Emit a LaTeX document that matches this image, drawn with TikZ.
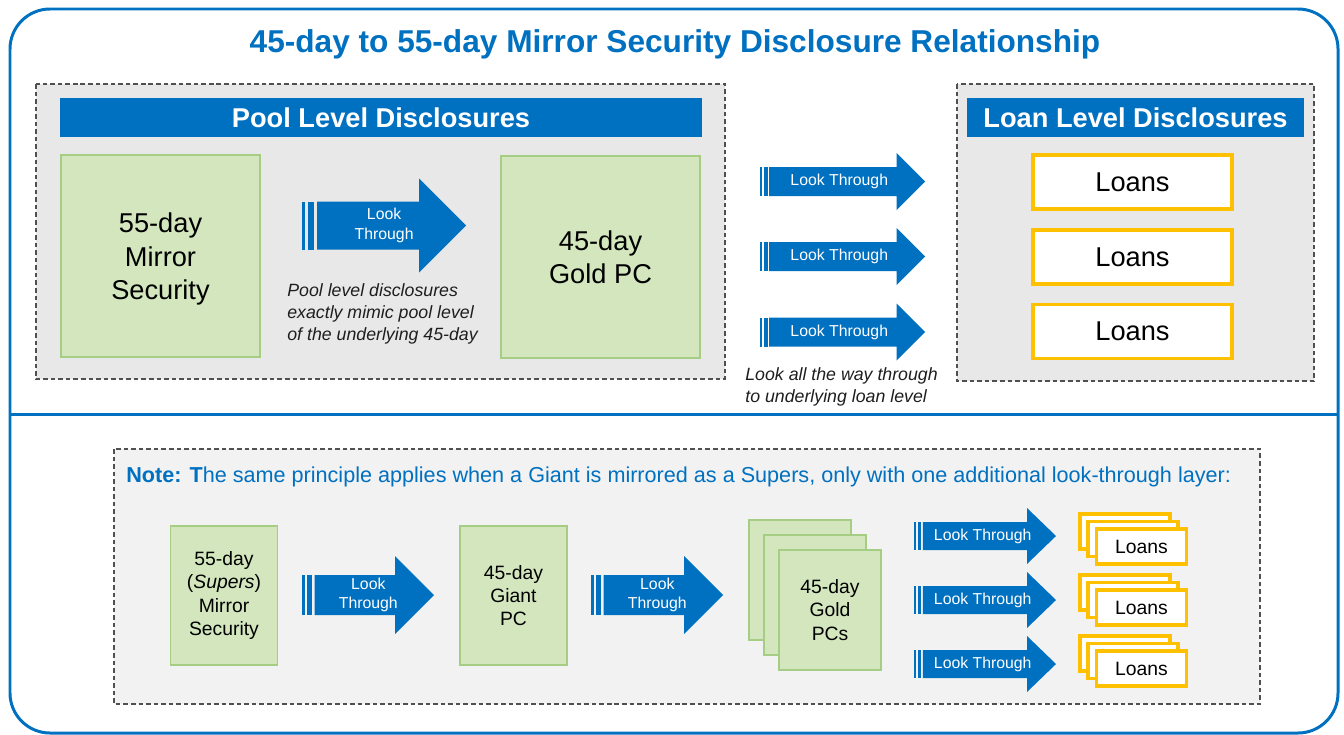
\documentclass[tikz,border=0pt]{standalone}
\usepackage{fontspec}
\setmainfont{Liberation Sans}
\definecolor{mblue}{RGB}{0,112,192}
\definecolor{lgray}{RGB}{232,232,232}
\definecolor{vlgray}{RGB}{242,242,242}
\definecolor{lgreen}{RGB}{211,230,189}
\definecolor{dgreen}{RGB}{165,206,132}
\definecolor{gold}{RGB}{255,192,0}
\definecolor{dashgray}{RGB}{80,80,80}
\definecolor{txtgray}{RGB}{30,30,30}

% block arrow: name, tail x, centre y, length, body half, head half, head length, text
\newcommand{\lookarrow}[8]{%
  \fill[mblue] (#2,{#3-#5}) rectangle ({#2+0.14*#5},{#3+#5});
  \fill[mblue] ({#2+0.27*#5},{#3-#5}) rectangle ({#2+0.52*#5},{#3+#5});
  \fill[mblue] ({#2+0.63*#5},{#3-#5}) -- ({#2+#4-#7},{#3-#5}) -- ({#2+#4-#7},{#3-#6})
    -- ({#2+#4},#3) -- ({#2+#4-#7},{#3+#6}) -- ({#2+#4-#7},{#3+#5})
    -- ({#2+0.63*#5},{#3+#5}) -- cycle;
  \node[arrowtext] (#1) at ({#2+0.63*#5+0.45*(#4-0.63*#5)},#3) {#8};
}

\begin{document}
\begin{tikzpicture}[x=0.02cm, y=-0.02cm,
  frame/.style={draw=mblue, line width=1.7pt},
  dashbox/.style={draw=dashgray, line width=0.6pt, dash pattern=on 2.6pt off 1.7pt},
  header/.style={fill=mblue, text=white, inner sep=0, minimum height=0.78cm,
    font=\bfseries\fontsize{15.5}{18}\selectfont},
  greenbox/.style={fill=lgreen, draw=dgreen, line width=0.7pt, inner sep=0, align=center},
  bigtext/.style={font=\fontsize{15.5}{19}\selectfont},
  smalltext/.style={font=\fontsize{11}{13.2}\selectfont},
  loanbox/.style={fill=white, draw=gold, line width=1.8pt, inner sep=0},
  arrowtext/.style={text=white, align=center, inner sep=0, font=\fontsize{9}{11.2}\selectfont},
  remark/.style={text=txtgray, align=left, inner sep=0, font=\itshape\fontsize{10.1}{12.5}\selectfont}]
\useasboundingbox (0,0) rectangle (1344,734);

% frame and title
\draw[frame, rounded corners=0.8cm] (10,9) rectangle (1338,733);
\draw[frame] (10,414) -- (1338,414);
\node[text=mblue, font=\bfseries\fontsize{18}{21}\selectfont] (T) at (675,44)
  {45-day to 55-day Mirror Security Disclosure Relationship};

% pool level
\draw[dashbox, fill=lgray] (36,84) rectangle (725,379);
\node[header, minimum width=12.84cm] (P) at (381,117.5) {Pool Level Disclosures};
\node[greenbox, minimum width=3.98cm, minimum height=4.04cm] (M) at (160.5,256) {};
\node[bigtext, align=center, inner sep=0] (Mt) at (160.5,259) {55-day\\Mirror\\Security};
\node[greenbox, bigtext, minimum width=3.98cm, minimum height=4.04cm] (G) at (600.5,257)
  {45-day\\Gold PC};
\lookarrow{A}{302}{225.5}{164}{24}{47}{47}{Look\\Through}
\node[remark, anchor=west] (R1) at (287,314)
  {Pool level disclosures\\exactly mimic pool level\\of the underlying 45-day};

% look through to loans
\lookarrow{A1}{760}{181.5}{165}{14.5}{28.5}{28.5}{Look Through}
\lookarrow{A2}{760}{256.5}{165}{14.5}{28.5}{28.5}{Look Through}
\lookarrow{A3}{760}{332}{165}{14.5}{28.5}{28.5}{Look Through}
\node[remark, anchor=west] (R2) at (745,387)
  {Look all the way through\\to underlying loan level};

% loan level
\draw[dashbox, fill=lgray] (957,84) rectangle (1314,381);
\node[header, minimum width=6.74cm] (L) at (1135.5,117.5) {Loan Level Disclosures};
\node[loanbox, bigtext, minimum width=3.98cm, minimum height=1.08cm] (L1) at (1132.5,182) {Loans};
\node[loanbox, bigtext, minimum width=3.98cm, minimum height=1.08cm] (L2) at (1132.5,257) {Loans};
\node[loanbox, bigtext, minimum width=3.98cm, minimum height=1.08cm] (L3) at (1132.5,331.5) {Loans};

% note on Giants and Supers
\draw[dashbox, fill=vlgray] (114,449) rectangle (1260,704);
\node[text=mblue, anchor=west, inner sep=0, font=\fontsize{12.3}{14}\selectfont] (N) at (126,477)
  {\textbf{Note: T}he same principle applies when a Giant is mirrored as a Supers, only with one additional look-through layer:};
\node[greenbox, smalltext, minimum width=2.14cm, minimum height=2.78cm] (S) at (224,595.5)
  {55-day\\(\textit{Supers})\\Mirror\\Security};
\lookarrow{B1}{302}{595}{132}{20}{39}{39}{Look\\Through}
\node[greenbox, smalltext, minimum width=2.14cm, minimum height=2.78cm] (GP) at (513.5,595.5)
  {45-day\\Giant\\PC};
\lookarrow{B2}{591}{595}{132}{20}{39}{39}{Look\\Through}
\node[greenbox, minimum width=2.04cm, minimum height=2.4cm] (C3) at (800,580) {};
\node[greenbox, minimum width=2.04cm, minimum height=2.4cm] (C2) at (815,595) {};
\node[greenbox, smalltext, minimum width=2.04cm, minimum height=2.4cm] (C1) at (830,610)
  {45-day\\Gold\\PCs};
\lookarrow{D1}{914}{536}{142}{14}{28}{29}{Look Through}
\lookarrow{D2}{914}{600}{142}{14}{28}{29}{Look Through}
\lookarrow{D3}{914}{664}{142}{14}{28}{29}{Look Through}

\node[loanbox, minimum width=1.8cm, minimum height=0.7cm] (E13) at (1125,531.5) {};
\node[loanbox, minimum width=1.8cm, minimum height=0.7cm] (E12) at (1133,539) {};
\node[loanbox, smalltext, minimum width=1.8cm, minimum height=0.7cm] (E11) at (1141.5,546.5) {Loans};
\node[loanbox, minimum width=1.8cm, minimum height=0.7cm] (E23) at (1125,592.5) {};
\node[loanbox, minimum width=1.8cm, minimum height=0.7cm] (E22) at (1133,600) {};
\node[loanbox, smalltext, minimum width=1.8cm, minimum height=0.7cm] (E21) at (1141.5,607.5) {Loans};
\node[loanbox, minimum width=1.8cm, minimum height=0.7cm] (E33) at (1125,653.5) {};
\node[loanbox, minimum width=1.8cm, minimum height=0.7cm] (E32) at (1133,661) {};
\node[loanbox, smalltext, minimum width=1.8cm, minimum height=0.7cm] (E31) at (1141.5,668.5) {Loans};
\end{tikzpicture}
\end{document}
